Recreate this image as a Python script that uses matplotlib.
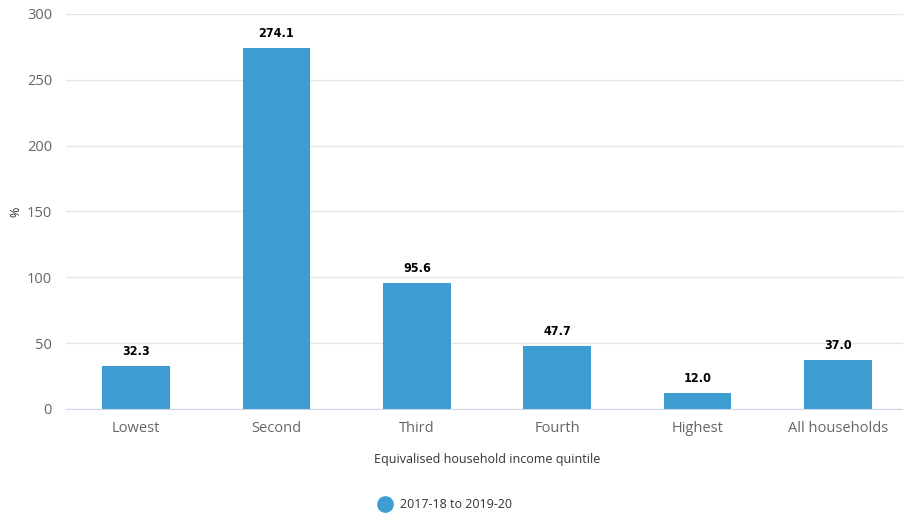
import matplotlib.pyplot as plt
from matplotlib.lines import Line2D

categories = ["Lowest", "Second", "Third", "Fourth", "Highest", "All households"]
values = [32.3, 274.1, 95.6, 47.7, 12.0, 37.0]
series_name = "2017-18 to 2019-20"
yticks = [0, 50, 100, 150, 200, 250, 300]

plt.rcParams["font.family"] = ["Open Sans", "DejaVu Sans"]

fig = plt.figure(figsize=(9.04, 5.14), dpi=100)
ax = fig.add_axes([66 / 904, (514 - 409) / 514, 842 / 904, 395 / 514])

x = list(range(len(categories)))
ax.bar(x, values, width=0.48, color="#3d9dd1", zorder=3)
for xi, v in zip(x, values):
    ax.annotate(f"{v:.1f}", (xi, v), xytext=(0, 6), textcoords="offset points",
                ha="center", va="bottom", fontsize=9, fontweight="bold",
                stretch="condensed", color="black", family="DejaVu Sans", zorder=4)

ax.set_xlim(-0.5, len(categories) - 0.5)
ax.set_ylim(0, 300)
ax.set_yticks(yticks)
ax.set_xticks(x)
ax.set_xticklabels(categories)
ax.tick_params(axis="both", length=0, labelsize=10.5, colors="#666666")
ax.tick_params(axis="y", pad=10)
ax.tick_params(axis="x", pad=9)
ax.grid(axis="y", color="#e6e6e6", linewidth=1, zorder=0)
for s in ["top", "right", "left"]:
    ax.spines[s].set_visible(False)
ax.spines["bottom"].set_color("#ccd6eb")
ax.spines["bottom"].set_zorder(5)

ax.set_xlabel("Equivalised household income quintile", fontsize=9, color="#333333", labelpad=12)
ax.set_ylabel("%", fontsize=9, color="#333333")
ax.yaxis.set_label_coords(-44 / 842, 0.5)

handle = Line2D([], [], marker="o", linestyle="none", markersize=11,
                markerfacecolor="#3d9dd1", markeredgecolor="#3d9dd1")
fig.legend([handle], [series_name], loc="center", bbox_to_anchor=(442 / 904, 1 - 505 / 514),
           frameon=False, fontsize=9, handletextpad=0.2, labelcolor="#333333")

fig.savefig("out.png", dpi=100)
